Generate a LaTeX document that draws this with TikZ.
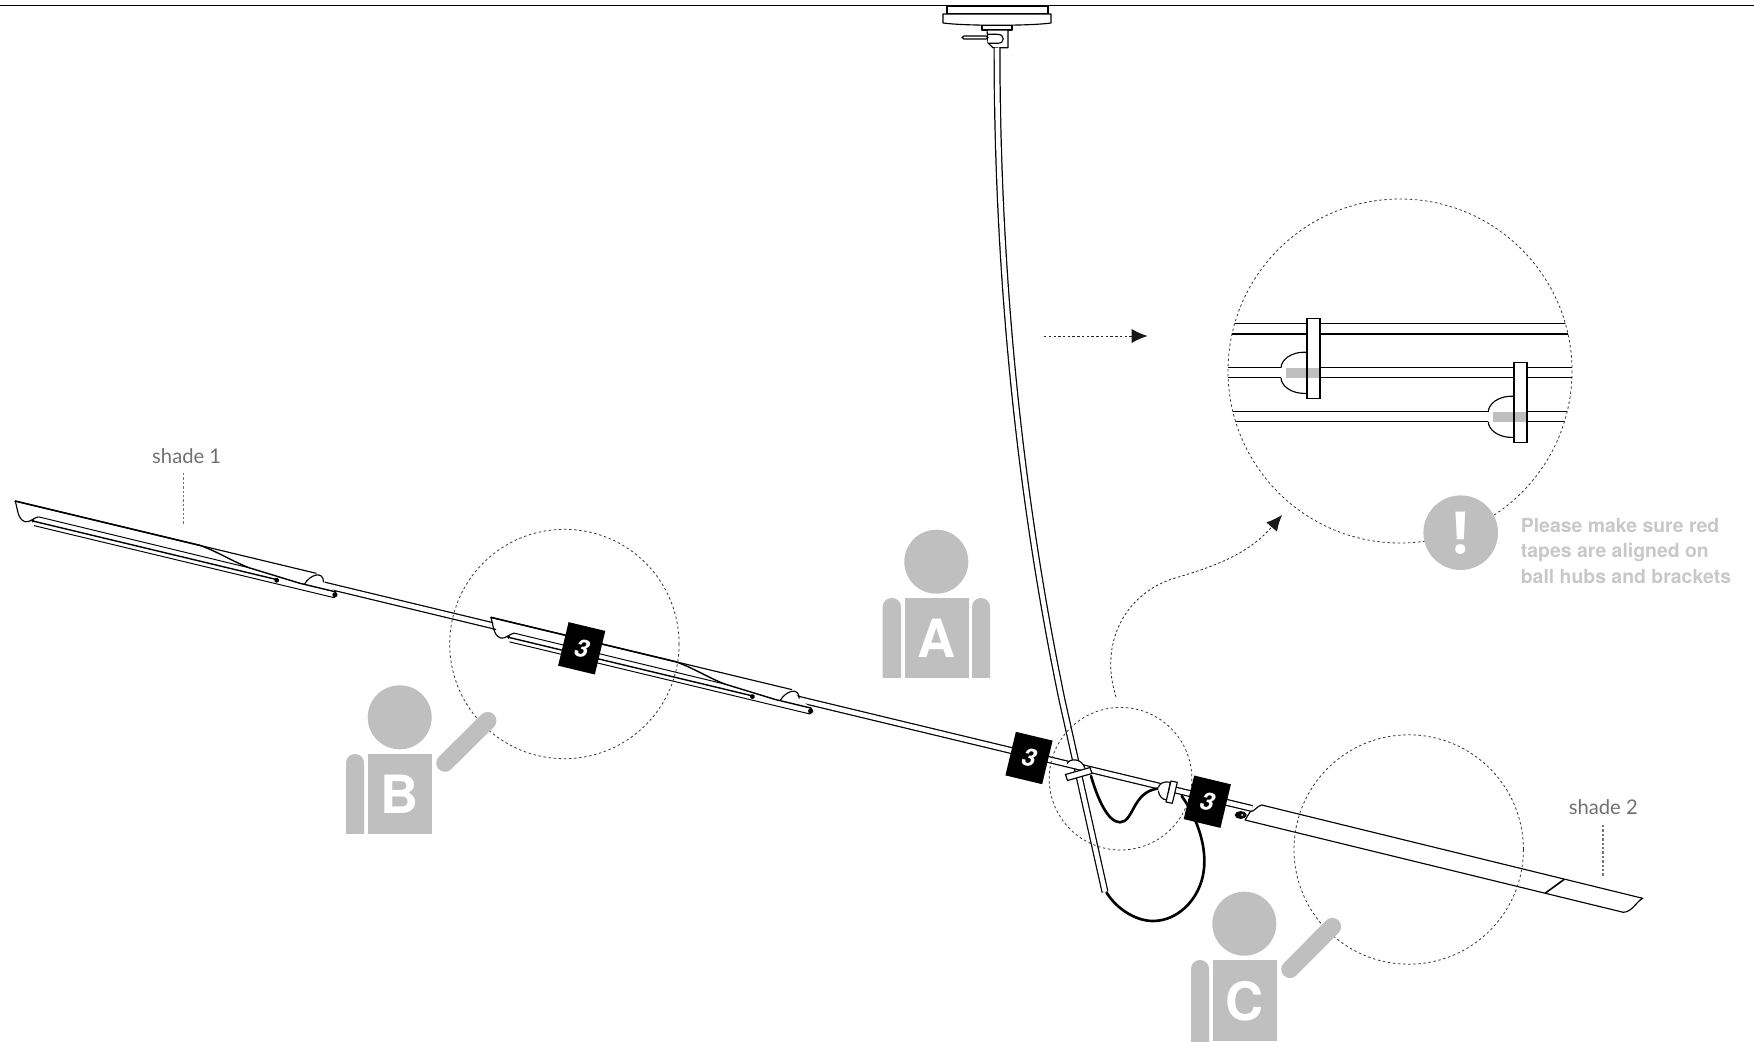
\documentclass[tikz,border=0pt]{standalone}
\usepackage{fontspec}
\setmainfont{Open Sans}
\newfontfamily\labelfont{Lato}
\newfontfamily\heavyfont{TeX Gyre Heros}
\usetikzlibrary{calc, arrows.meta, positioning}

\definecolor{persongray}{HTML}{BFBFBF}
\definecolor{notegray}{HTML}{C8C8C8}
\definecolor{labelgray}{HTML}{707070}

\tikzset{
    pipe/.style={line width=0.7pt, double=white, double distance=2.6pt},
    cable/.style={line width=1.5pt, line cap=round},
    thinline/.style={line width=0.65pt, line join=round},
    zoomring/.style={line width=0.45pt, dash pattern=on 1.4pt off 1.5pt, black!80},
    leader/.style={line width=0.6pt, dash pattern=on 1.4pt off 1.1pt, black!55},
    flowarrow/.style={line width=0.45pt, dash pattern=on 1.4pt off 1.3pt, black!85,
        -{Latex[length=9pt, width=8pt, black!90]}},
    person/.style={fill=persongray},
    personletter/.style={text=white, font=\heavyfont\fontsize{30}{30}\selectfont\bfseries, inner sep=0pt},
    stepmark/.style={fill=black, text=white, minimum width=21.5pt, minimum height=25.5pt, inner sep=0pt,
        rotate=-13.5, font=\heavyfont\fontsize{14}{14}\selectfont\bfseries\itshape},
    shadelabel/.style={text=labelgray, font=\labelfont\fontsize{11.5}{12}\selectfont, inner sep=0pt},
    raisedarm/.style={line width=10pt, line cap=round, persongray}
}

\begin{document}
\begin{tikzpicture}[x=0.02cm, y=-0.02cm]
    \useasboundingbox (0,0) rectangle (1754,1041);

    % Ceiling
    \draw[line width=0.5pt] (0,5.5) -- (1754,5.5);
    \draw[thinline, fill=white] (947,6) rectangle (1048,14);
    \draw[thinline, fill=white] (943,14) -- (943,23) .. controls (965,26) and (1030,26) .. (1051,23) -- (1051,14) -- cycle;
    \draw[thinline, fill=white] (982,25.5) rectangle (1012,30);
    \draw[thinline, fill=white] (987,30) -- (988,43) -- (993,47.7) -- (1008,47.7) -- (1008,30) -- cycle;
    \draw[thinline, fill=white] (988,34.3) -- (997,34.3) .. controls (1001,34.3) and (1003.3,36) .. (1003.3,39)
        .. controls (1003.3,42) and (1001,43.3) .. (997,43.3) -- (988,43.3);
    \draw[thinline, fill=white, rounded corners=1pt] (962,36) rectangle (988,39);

    % Stem and rod
    \coordinate (stemtop) at (997,47.5);
    \coordinate (stembottom) at (1105,892);
    \coordinate (rodleft) at (324,585);
    \coordinate (rodright) at (1252,808.5);
    \draw[pipe] (stemtop) .. controls (997,220) and (1010,450) .. (1062,700) -- (stembottom);
    \draw[pipe] (rodleft) -- (rodright);

    % Cables
    \draw[cable] (1091,776) .. controls (1098,800) and (1108,822) .. (1120,822.3)
        .. controls (1134,822) and (1132,792) .. (1158,788.5);
    \draw[cable] (1181.7,796) .. controls (1195,815) and (1205,840) .. (1204.3,863)
        .. controls (1204,895) and (1180,921) .. (1153,921)
        .. controls (1135,921) and (1116,908) .. (1106.5,892.5);

    % Joint on the stem
    \draw[thinline, fill=white] (1067,763.5) .. controls (1070,758) and (1082,758) .. (1085,768.5);
    \draw[thinline, fill=white] (1065.5,774.5) -- (1067.5,780.5) -- (1092,773.5) -- (1090,767.5) -- cycle;

    % Ball hub and bracket on the rod
    \draw[thinline, fill=white] (1158.3,787.3) .. controls (1160,783) and (1164,781) .. (1170.3,782.3)
        -- (1166.7,800) .. controls (1162,799.5) and (1159,796) .. (1158.3,790.7);
    \draw[thinline, fill=white] (1171,781) -- (1177.3,782.3) -- (1172.3,803.3) -- (1166,802) -- cycle;

    % Shades on the rod
    \foreach \sx/\sy in {15/501, 490.7/617.3}{
        \begin{scope}[shift={(\sx,\sy)}, rotate=-13.5]
            \fill[white] (0,0) -- (310,0) -- (319,7) -- (333,13.5) -- (333,19.5) -- (24,19) -- (14,18) -- cycle;
            \draw[thinline] (0,0) -- (310,0);
            \draw[line width=0.9pt] (0,0) -- (190,0);
            \draw[thinline] (0,0) .. controls (4,5) and (6,17) .. (14.5,17.8)
                .. controls (19,18) and (22,12) .. (26.4,9.9);
            \draw[line width=0.55pt] (26.4,9.9) -- (244,10.3);
            \draw[line width=0.8pt] (190,0) .. controls (210,2) and (225,8) .. (244,10.3) -- (296,13.5) -- (333,13.5);
            \draw[line width=0.8pt] (22,15.3) -- (273,15.3);
            \draw[line width=0.55pt] (24,19.5) -- (333,19.5);
            \draw[line width=0.8pt] (333,13.5) -- (333,19.5);
            \draw[thinline] (301,13) .. controls (304,3) and (316,-5) .. (319,7);
            \fill (273,16) circle (2.4);
            \fill (333,16.5) circle (2.6);
            \fill (22,15) circle (1.8);
        \end{scope}
    }

    % Shade 2
    \draw[thinline, fill=white] (1261.7,805) -- (1642.7,898.3) .. controls (1636,902) and (1632,912) .. (1623.3,912.3)
        -- (1245,820) -- (1250,812) .. controls (1255,811) and (1257,806) .. (1261.7,805) -- cycle;
    \draw[line width=0.9pt] (1564.3,879.3) -- (1545,893.3);
    \draw[line width=1pt, fill=white] (1240.7,815) ellipse (5 and 3);
    \fill (1240.7,815) ellipse (4 and 2.4);
    \fill[white] (1242,815) circle (1);

    % Dashed rings
    \draw[zoomring] (564.4,644) circle (114.7);
    \draw[zoomring] (1120.5,778.7) circle (71.3);
    \draw[zoomring] (1408.7,849.5) circle (114.7);
    \draw[zoomring] (1400,371) circle (172);

    % Inside of the large ring
    \begin{scope}
        \clip (1400,371) circle (172);
        \draw[thinline] (1200,323.7) -- (1600,323.7);
        \draw[thinline] (1200,334) -- (1600,334);
        \draw[thinline] (1200,367.7) -- (1281,367.7) (1320,367.7) -- (1600,367.7);
        \draw[thinline] (1200,377.7) -- (1281,377.7) (1320,377.7) -- (1600,377.7);
        \draw[thinline] (1200,411.7) -- (1488.3,411.7) (1527,411.7) -- (1600,411.7);
        \draw[thinline] (1200,421.7) -- (1488.3,421.7) (1527,421.7) -- (1600,421.7);
    \end{scope}
    \foreach \hx/\hy in {1307/372.8, 1514.3/416.8}{
        \begin{scope}[shift={(\hx,\hy)}]
            \fill[white] (0,-54.3) rectangle (13,25.7);
            \draw[thinline] (0,-20.5) .. controls (-17,-21.5) and (-26,-12) .. (-26,-5);
            \draw[thinline] (-26,5) .. controls (-26,12) and (-17,21.5) .. (0,20.5);
            \fill[persongray] (-21,-5.2) rectangle (12.6,5.2);
            \draw[line width=1pt] (0,-54.3) rectangle (13,25.7);
        \end{scope}
    }

    % Note
    \fill[person] (1460.7,532.7) circle (37.3);
    \node[text=white, font=\fontsize{33}{33}\selectfont\bfseries, inner sep=0pt] (notemark) at (1460.7,532.7) {!};
    \node[anchor=north west, align=left, inner sep=0pt, text=notegray,
        font=\heavyfont\fontsize{11.05}{14.7}\selectfont\bfseries] (notetext) at (1520.5,517.5)
        {Please make sure red\\tapes are aligned on\\ball hubs and brackets};

    % Arrows
    \coordinate (flowstart) at (1044,336);
    \coordinate (flowend) at (1147.5,336);
    \draw[flowarrow] (flowstart) -- (flowend);
    \coordinate (curvestart) at (1116,697);
    \coordinate (curveend) at (1282,515);
    \draw[flowarrow] (curvestart) .. controls (1098,640) and (1128,592) .. (1175,578)
        .. controls (1220,565) and (1250,552) .. (curveend);

    % Step marks
    \node[stepmark] (stepone) at (581.7,648.3) {3};
    \node[stepmark] (steptwo) at (1029,758) {3};
    \node[stepmark] (stepthree) at (1207.3,801.7) {3};

    % Person A
    \fill[person] (936.3,561.7) circle (32);
    \fill[person] (905,597.7) rectangle (969,677.7);
    \fill[person, rounded corners=5pt] (882.7,690) -- (882.7,598) -- (901,598) -- (901,690) -- cycle;
    \fill[person, rounded corners=5pt] (972,690) -- (972,598) -- (990,598) -- (990,690) -- cycle;
    \fill[white] (880,677.7) rectangle (992,695);
    \node[personletter] (personA) at (937,638.5) {A};

    % Person B
    \fill[person] (399.7,717.3) circle (32);
    \fill[person] (368,754) rectangle (432,833.7);
    \fill[person, rounded corners=5pt] (346,846) -- (346,754) -- (364,754) -- (364,846) -- cycle;
    \fill[white] (344,833.7) rectangle (366,850);
    \draw[raisedarm] (445,763) -- (487.7,720.7);
    \node[personletter] (personB) at (400,794.5) {B};

    % Person C
    \fill[person] (1244.3,923.7) circle (32);
    \fill[person] (1213,960) rectangle (1277,1041);
    \fill[person, rounded corners=5pt] (1191,1060) -- (1191,960) -- (1209,960) -- (1209,1060) -- cycle;
    \draw[raisedarm] (1290,969.3) -- (1332.3,926.7);
    \node[personletter] (personC) at (1245,1001) {C};

    % Labels
    \node[shadelabel] (shadeone) at (186.7,455.7) {shade 1};
    \coordinate (shadeoneend) at (183.7,525);
    \draw[leader] (183.7,473) -- (shadeoneend);
    \node[shadelabel] (shadetwo) at (1603.3,806.7) {shade 2};
    \coordinate (shadetwoend) at (1603,876);
    \draw[leader] (1603,825) -- (shadetwoend);
\end{tikzpicture}
\end{document}
